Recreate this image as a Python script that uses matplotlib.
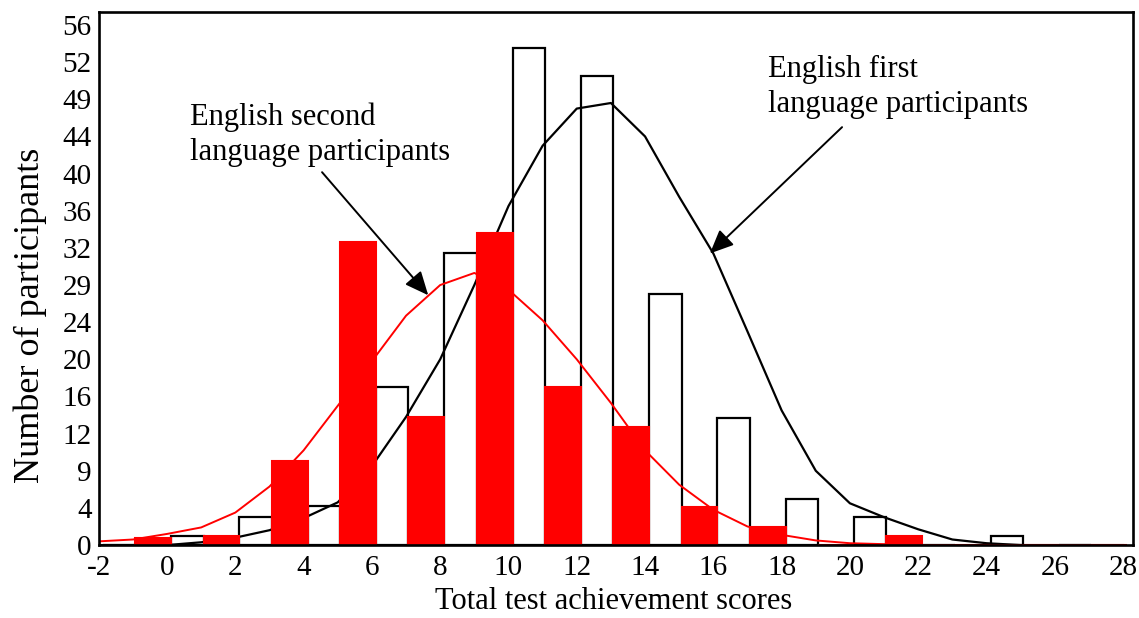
import matplotlib
matplotlib.use("Agg")
import matplotlib.pyplot as plt

plt.rcParams['font.family'] = ['Liberation Serif', 'DejaVu Serif']

# two-point score bins, each holding a first-language and a second-language bar
bin_starts = [-2, 0, 2, 4, 6, 8, 10, 12, 14, 16, 18, 20, 22, 24, 26]
first_lang_counts = [0, 1, 3, 4.2, 17, 31.5, 53.5, 50.5, 27, 13.7, 5, 3, 0, 1, 0]
second_lang_counts = [0.8, 1, 9, 32.6, 13.8, 33.6, 17, 12.7, 4.1, 1.9, 0, 1, 0, 0, 0]

curve_x = list(range(-2, 29))
first_lang_curve = [0, 0, 0, 0.3, 0.8, 1.6, 2.9, 4.6, 8.5, 13.8, 20, 28, 36.5, 43,
                    47, 47.6, 44, 37.5, 31.4, 23, 14.5, 8, 4.5, 3.0, 1.7, 0.6, 0.2,
                    0, 0, 0, 0]
second_lang_curve = [0.4, 0.6, 1.2, 1.9, 3.5, 6.3, 10.2, 15, 19.8, 24.7, 28, 29.3,
                     27.5, 24.2, 20, 15.3, 10.2, 6.5, 3.8, 2.0, 1.1, 0.5, 0.2, 0.1,
                     0, 0, 0, 0, 0, 0, 0]

x_ticks = list(range(-2, 29, 2))
y_tick_pos = list(range(0, 57, 4))
y_tick_labels = ['0', '4', '9', '12', '16', '20', '24', '29', '32', '36', '40',
                 '44', '49', '52', '56']

fig = plt.figure(figsize=(11.39, 6.18), dpi=100)
ax = fig.add_axes([0.0867, 0.118, 0.9083, 0.8626])

white_left = [b + 0.12 for b in bin_starts]
red_left = [b + 1.07 for b in bin_starts]

ax.bar(white_left, first_lang_counts, width=0.95, align='edge', color='white',
       edgecolor='black', linewidth=1.6, zorder=2)
ax.plot(curve_x, first_lang_curve, color='black', lw=1.6, zorder=3)
ax.plot(curve_x, second_lang_curve, color='red', lw=1.4, zorder=3)
ax.bar(red_left, second_lang_counts, width=1.05, align='edge', color='#ff0000',
       edgecolor='#ff0000', linewidth=1.5, zorder=4)

ax.set_xlim(-2, 28.3)
ax.set_ylim(0, 57.4)
ax.set_xticks(x_ticks)
ax.set_xticklabels([str(t) for t in x_ticks])
ax.set_yticks(y_tick_pos)
ax.set_yticklabels(y_tick_labels)
ax.tick_params(length=0, labelsize=21)
ax.tick_params(axis='x', pad=7)
ax.tick_params(axis='y', pad=5)
for s in ax.spines.values():
    s.set_linewidth(1.9)
    s.set_zorder(5)

fig.text(614 / 1139, 0.026, 'Total test achievement scores', ha='center',
         va='center', fontsize=22)
fig.text(30 / 1139, 0.49, 'Number of participants', rotation=90, ha='center',
         va='center', fontsize=26)

arrow = dict(arrowstyle='-|>,head_length=0.9,head_width=0.4', color='black',
             lw=1.4, shrinkA=0, shrinkB=0, mutation_scale=16)

ax.text(0.67, 44.2, 'English second\nlanguage participants', fontsize=22,
        ha='left', va='center', linespacing=1.25, zorder=6)
ax.annotate('', xy=(7.65, 26.9), xytext=(4.54, 40.15), arrowprops=arrow,
            zorder=6)

ax.text(17.6, 49.3, 'English first\nlanguage participants', fontsize=22,
        ha='left', va='center', linespacing=1.25, zorder=6)
ax.annotate('', xy=(15.9, 31.4), xytext=(19.77, 45.0), arrowprops=arrow,
            zorder=6)

plt.savefig('out.png', dpi=100)
